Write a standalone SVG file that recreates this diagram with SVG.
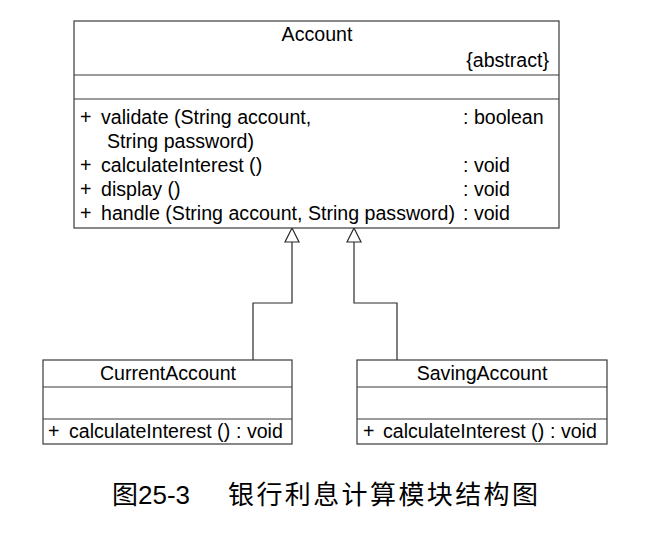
<svg xmlns="http://www.w3.org/2000/svg" width="657" height="533" viewBox="0 0 657 533">
<style>
.box{fill:#fff;stroke:#3a3a3a;stroke-width:1.2}
.sep{stroke:#3a3a3a;stroke-width:1.2}
.t{font-family:"Liberation Sans",Arial,sans-serif;font-size:19.6px;fill:#000}
.c{text-anchor:middle}
.e{text-anchor:end}
.conn{fill:none;stroke:#2a2a2a;stroke-width:1.2}
.head{fill:#fff;stroke:#2a2a2a;stroke-width:1.2}
.cap{font-family:"Liberation Sans","Noto Sans CJK SC",sans-serif;font-size:26px;fill:#000}
</style>
<rect width="657" height="533" fill="#fff"/>
<g id="connectors">
<polyline class="conn" points="292,242 292,303 253,303 253,360"/>
<polygon class="head" points="292,228 285,242 299,242"/>
<polyline class="conn" points="354,242 354,303 397,303 397,360"/>
<polygon class="head" points="354,228 347,242 361,242"/>
</g>
<g id="Account">
<rect class="box" x="74" y="21" width="485" height="207"/>
<line class="sep" x1="74" y1="75" x2="559" y2="75"/>
<line class="sep" x1="74" y1="99" x2="559" y2="99"/>
<text class="t c" x="317" y="41">Account</text>
<text class="t e" x="549" y="67">{abstract}</text>
<text class="t" x="80" y="124">+</text>
<text class="t" x="101" y="124">validate (String account,</text>
<text class="t" x="463" y="124">: boolean</text>
<text class="t" x="107" y="148">String password)</text>
<text class="t" x="80" y="172">+</text>
<text class="t" x="101" y="172">calculateInterest ()</text>
<text class="t" x="463" y="172">: void</text>
<text class="t" x="80" y="196">+</text>
<text class="t" x="101" y="196">display ()</text>
<text class="t" x="463" y="196">: void</text>
<text class="t" x="80" y="220">+</text>
<text class="t" x="101" y="220">handle (String account, String password)</text>
<text class="t" x="463" y="220">: void</text>
</g>
<g id="CurrentAccount">
<rect class="box" x="43" y="360" width="249" height="84"/>
<line class="sep" x1="43" y1="387" x2="292" y2="387"/>
<line class="sep" x1="43" y1="419" x2="292" y2="419"/>
<text class="t c" x="168" y="380">CurrentAccount</text>
<text class="t" x="48" y="438">+</text>
<text class="t" x="69" y="438">calculateInterest ()</text>
<text class="t" x="236" y="438">: void</text>
</g>
<g id="SavingAccount">
<rect class="box" x="357" y="360" width="250" height="84"/>
<line class="sep" x1="357" y1="387" x2="607" y2="387"/>
<line class="sep" x1="357" y1="419" x2="607" y2="419"/>
<text class="t c" x="482" y="380">SavingAccount</text>
<text class="t" x="363" y="438">+</text>
<text class="t" x="383" y="438">calculateInterest ()</text>
<text class="t" x="550" y="438">: void</text>
</g>
<g id="caption">
<text class="cap" x="112" y="504">图25-3</text>
<text class="cap" x="228" y="504" letter-spacing="2.4">银行利息计算模块结构图</text>
</g>
</svg>
